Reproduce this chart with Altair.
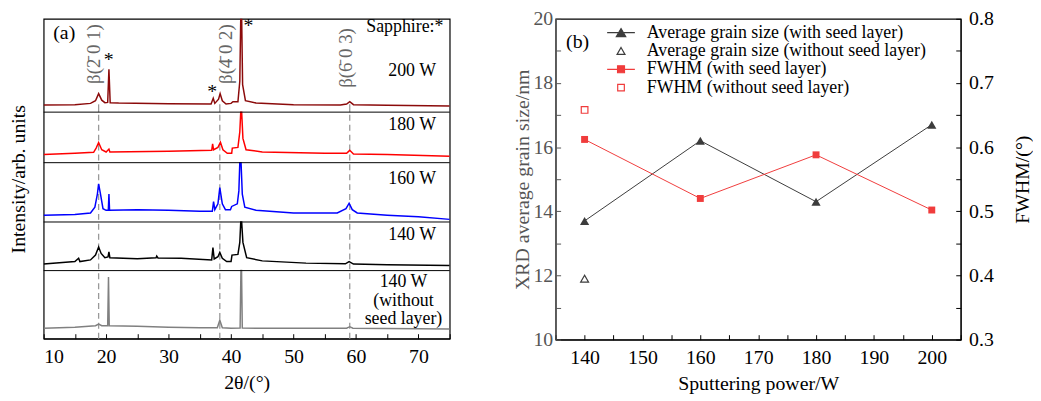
import altair as alt
import pandas as pd

FONT = "Liberation Serif"

# ---------------- (a) XRD patterns ----------------
samples = ["200 W", "180 W", "160 W", "140 W", "140 W (without seed layer)"]
sample_colors = ["#8b0a0a", "#ff0000", "#0000ff", "#000000", "#808080"]
panel_base = [233, 181, 120, 70, 0]  # baseline of each stacked trace (arb. units)

tt_200 = [10, 15, 17.5, 18.3, 18.8, 19.3, 19.8, 20.25, 20.45, 20.65, 22, 30, 36.8, 37.15, 37.4,
          38.0, 38.25, 38.6, 39.2, 40.0, 40.3, 41.1, 41.4, 41.55, 41.7, 41.85, 42.3, 44, 50, 57.5,
          58.5, 59.0, 59.6, 65, 75]
i_200 = [7.3, 7.7, 9, 11.7, 19, 12.3, 9.7, 10, 44, 9.7, 9.3, 8.7, 8.3, 14.3, 9,
         13.3, 19, 11.7, 8.3, 9, 10.7, 10.7, 31.7, 96, 96, 28.3, 11.7, 9.3, 7.7, 7.3,
         8.3, 10.7, 7.7, 7, 6.3]

tt_180 = [10, 15, 18, 18.4, 18.8, 19.3, 20.0, 20.45, 20.6, 30, 36.9, 37.05, 37.2, 37.9, 38.3,
          38.7, 39.4, 40.1, 40.2, 41.1, 41.4, 41.55, 41.7, 41.9, 42.4, 45, 55, 58.5, 59.0, 59.6,
          65, 75]
i_180 = [8.3, 9.7, 10.7, 15, 20.7, 13.3, 11, 14, 11, 11.7, 12.7, 19.3, 13.3, 15.7, 21,
         13.3, 9.7, 9.7, 15, 15.7, 31.7, 52, 52, 25, 13.3, 11, 9.7, 9.7, 12.7, 9,
         8.3, 6.7]

tt_160 = [10, 15, 17.5, 18.2, 18.6, 18.8, 19.1, 19.5, 20.0, 20.35, 20.45, 20.55, 25, 30, 35,
          37.0, 37.2, 37.4, 37.9, 38.2, 38.6, 39.1, 39.9, 40.1, 41.0, 41.25, 41.4, 41.6, 41.8, 42.2,
          44, 50, 57, 58.4, 58.9, 59.4, 60.2, 65, 70, 75]
i_160 = [7, 7.7, 9.3, 15.3, 28.7, 39.3, 28.7, 13.7, 12, 12, 28.7, 12, 12.7, 12, 11,
         11, 21, 12.7, 18.7, 35.3, 18.7, 12.7, 12.7, 16, 18.7, 32, 61, 61, 28.7, 15.3,
         12, 9.3, 9.3, 13.7, 19.3, 12.7, 9.3, 7, 5.3, 2.7]

tt_140 = [10, 15, 15.6, 15.8, 17.5, 18.3, 18.8, 19.2, 19.8, 20.3, 20.45, 20.6, 25, 28, 28.1,
          28.3, 32, 36.9, 37.1, 37.3, 37.9, 38.2, 38.6, 39.3, 40.0, 40.15, 41.1, 41.4, 41.55, 41.7,
          41.9, 42.5, 45, 52, 58.3, 58.9, 59.6, 65, 75]
i_140 = [6.7, 9.3, 12.7, 9.3, 11, 16, 24.3, 17.7, 13.3, 14, 19.3, 13.3, 12.3, 13.3, 15,
         13, 12.7, 11, 23.7, 12, 14.3, 18.7, 12.7, 9.3, 9.3, 16, 16.7, 29, 50, 50,
         29, 13.3, 10, 7.7, 7, 9.3, 6.7, 6, 5.3]

tt_ns = [10, 15, 18.3, 18.8, 19.3, 20.25, 20.38, 20.5, 25, 30, 35, 37.8, 38.2, 38.6, 40,
         41.45, 41.58, 41.68, 41.8, 45, 55, 58.5, 59.0, 59.5, 75]
i_ns = [10.7, 11.7, 13.3, 15, 13.3, 13.3, 63.3, 13.3, 12.7, 11.7, 11.3, 11.3, 19, 11.3, 10.7,
        11, 70, 70, 11, 10.7, 10.7, 10.7, 12.3, 10.7, 10]

peak_tt = [18.8, 38.2, 59.0]
peak_labels = ["β(2̄ 0 1)", "β(4̄ 0 2)", "β(6̄ 0 3)"]

# ---------------- (b) grain size and FWHM ----------------
power = [140, 160, 180, 200]
grain_seed = [13.7, 16.2, 14.3, 16.7]
power_noseed = [140]
grain_noseed = [11.9]
fwhm_seed = [0.612, 0.520, 0.588, 0.502]
fwhm_noseed = [0.658]
legend_labels = ["Average grain size (with seed layer)",
                 "Average grain size (without seed layer)",
                 "FWHM (with seed layer)",
                 "FWHM (without seed layer)"]

# ================= panel (a) =================
rows = []
for name, base, tt, it in zip(samples, panel_base,
                              [tt_200, tt_180, tt_160, tt_140, tt_ns],
                              [i_200, i_180, i_160, i_140, i_ns]):
    for t, v in zip(tt, it):
        rows.append({"sample": name, "tt": t, "y": base + v})
xrd = pd.DataFrame(rows)

W_L, H_L = 410, 323
TOP = 329
xs = alt.Scale(domain=[10, 75], nice=False, zero=False)
ys = alt.Scale(domain=[0, TOP], nice=False, zero=False)
INWARD = {"expr": "-5"}

x_axis_a = alt.Axis(title="2θ/(°)", values=list(range(10, 76, 5)),
                    labelExpr="datum.value % 10 == 0 ? datum.label : ''",
                    tickSize=INWARD, labelPadding=13, titlePadding=6, grid=False)
y_axis_a = alt.Axis(title="Intensity/arb. units", labels=False, ticks=False, domain=False,
                    titlePadding=15, grid=False)


def X(field="tt"):
    return alt.X(f"{field}:Q", scale=xs, axis=x_axis_a)


def Y(field="y"):
    return alt.Y(f"{field}:Q", scale=ys, axis=y_axis_a)


base_top = panel_base[0]
dash_df = pd.DataFrame({"tt": peak_tt, "y": [0] * 3, "y2": [base_top] * 3})
solid_df = pd.DataFrame({"tt": peak_tt, "y": [base_top] * 3, "y2": [base_top + 8] * 3})

dashed = alt.Chart(dash_df).mark_rule(color="#999999", strokeWidth=1.3, strokeDash=[6, 4]).encode(
    x=X(), y=Y(), y2="y2:Q")
solid = alt.Chart(solid_df).mark_rule(color="#999999", strokeWidth=1.3).encode(
    x=X(), y=Y(), y2="y2:Q")

curves = alt.Chart(xrd).mark_line(strokeWidth=1.5, clip=True).encode(
    x=X(), y=Y(),
    color=alt.Color("sample:N", scale=alt.Scale(domain=samples, range=sample_colors), legend=None),
    order=alt.Order("tt:Q"))

seps = alt.Chart(pd.DataFrame({"y": panel_base[:4]})).mark_rule(color="black", strokeWidth=1).encode(y=Y())

beta_df = pd.DataFrame({"label": peak_labels, "tt": [18.1, 39.2, 58.35],
                        "y": [262, 262, 258]})
beta_txt = alt.Chart(beta_df).mark_text(angle=270, align="left", baseline="middle", font=FONT,
                                        fontSize=19, color="#666666").encode(
    x=X(), y=Y(), text="label:N")

star_df = pd.DataFrame({"label": ["*", "*", "*"], "tt": [20.4, 37.0, 42.8], "y": [291, 258, 326]})
stars = alt.Chart(star_df).mark_text(baseline="middle", font=FONT, fontSize=20, dy=4).encode(
    x=X(), y=Y(), text="label:N")

right_df = pd.DataFrame({"label": ["Sapphire:*", "200 W", "180 W", "160 W", "140 W"],
                         "tt": [74.0, 72.8, 72.8, 72.8, 72.8],
                         "y": [321, 275, 220, 164, 107]})
right_txt = alt.Chart(right_df).mark_text(align="right", baseline="middle", font=FONT,
                                          fontSize=18).encode(x=X(), y=Y(), text="label:N")

a_df = pd.DataFrame({"label": ["(a)"], "tt": [13.3], "y": [314.5]})
a_txt = alt.Chart(a_df).mark_text(baseline="middle", font=FONT, fontSize=20).encode(
    x=X(), y=Y(), text="label:N")

ns_df = pd.DataFrame({"tt": [67.6], "y": [58]})
ns_txt = alt.Chart(ns_df).mark_text(text=["140 W", "(without", "seed layer)"], align="center",
                                    baseline="middle", lineHeight=18.5, font=FONT,
                                    fontSize=18).encode(x=X(), y=Y())

left = alt.layer(dashed, solid, curves, seps, beta_txt, stars, right_txt, a_txt, ns_txt).properties(
    width=W_L, height=H_L)

# ================= panel (b) =================
W_R, H_R = 409, 324
xr = alt.Scale(domain=[135, 205], nice=False, zero=False)
yg = alt.Scale(domain=[10, 20], nice=False, zero=False)
yf = alt.Scale(domain=[0.3, 0.8], nice=False, zero=False)
GRAY = "#3c3c3c"
RED = "#f03c3c"

x_axis_b = alt.Axis(title="Sputtering power/W", values=list(range(135, 206, 5)),
                    labelExpr="datum.value % 10 == 0 ? datum.label : ''",
                    tickSize=INWARD, labelPadding=13, titlePadding=6, grid=False)
yg_axis = alt.Axis(title="XRD average grain size/nm", values=list(range(10, 21)),
                   labelExpr="datum.value % 2 == 0 ? datum.label : ''",
                   tickSize=INWARD, labelPadding=8, titlePadding=0, grid=False,
                   domainColor="#555555", tickColor="#555555", labelColor="#555555",
                   titleColor="#555555")
yf_vals = [0.3, 0.35, 0.4, 0.45, 0.5, 0.55, 0.6, 0.65, 0.7, 0.75, 0.8]
yf_axis = alt.Axis(title="FWHM/(°)", orient="right", values=yf_vals,
                   labelExpr="abs(datum.value*10 - round(datum.value*10)) < 0.001 ? format(datum.value, '.1f') : ''",
                   tickSize=INWARD, labelPadding=13, titlePadding=19, titleAngle=270,
                   titleBaseline="top", grid=False)


def XB():
    return alt.X("power:Q", scale=xr, axis=x_axis_b)


def YG():
    return alt.Y("grain:Q", scale=yg, axis=yg_axis)


def YF():
    return alt.Y("fwhm:Q", scale=yf, axis=yf_axis)


g_df = pd.DataFrame({"power": power, "grain": grain_seed})
gn_df = pd.DataFrame({"power": power_noseed, "grain": grain_noseed})
f_df = pd.DataFrame({"power": power, "fwhm": fwhm_seed})
fn_df = pd.DataFrame({"power": power_noseed, "fwhm": fwhm_noseed})

g_line = alt.Chart(g_df).mark_line(color=GRAY, strokeWidth=1).encode(x=XB(), y=YG())
g_pts = alt.Chart(g_df).mark_point(shape="triangle-up", filled=True, size=86, color=GRAY,
                                   opacity=1).encode(x=XB(), y=YG())
gn_pts = alt.Chart(gn_df).mark_point(shape="triangle-up", filled=False, size=64, color=GRAY,
                                     strokeWidth=1.2, opacity=1).encode(x=XB(), y=YG())

# legend: symbols built from the series names, drawn outside the plot (clipped)
leg_paths = ["M-2.8,0H2.8M0,-0.82L0.95,0.82L-0.95,0.82Z",
             "M0,-0.7L0.8,0.7L-0.8,0.7Z",
             "M-2.8,0H2.8M-0.7,-0.7H0.7V0.7H-0.7Z",
             "M-0.67,-0.67H0.67V0.67H-0.67Z"]
leg = alt.Legend(title=None, orient="none", legendX=574, legendY=5, padding=0,
                 labelFont=FONT, labelFontSize=18, labelColor="black", labelLimit=500,
                 symbolSize=100, symbolStrokeWidth=1.2, labelOffset=17, rowPadding=0.5,
                 symbolOpacity=1)
leg_df = pd.DataFrame({"series": legend_labels, "power": [0] * 4, "grain": [0] * 4})
leg_layer = alt.Chart(leg_df).mark_point(clip=True, opacity=1, size=100).encode(
    x=XB(), y=YG(),
    shape=alt.Shape("series:N", scale=alt.Scale(domain=legend_labels, range=leg_paths), legend=leg),
    fill=alt.Fill("series:N", scale=alt.Scale(domain=legend_labels,
                                              range=[GRAY, "white", RED, "white"]), legend=leg),
    stroke=alt.Stroke("series:N", scale=alt.Scale(domain=legend_labels,
                                                  range=[GRAY, GRAY, RED, RED]), legend=leg))

b_df = pd.DataFrame({"label": ["(b)"], "power": [138.8], "grain": [19.27]})
b_txt = alt.Chart(b_df).mark_text(baseline="middle", font=FONT, fontSize=20).encode(
    x=XB(), y=YG(), text="label:N")

f_line = alt.Chart(f_df).mark_line(color=RED, strokeWidth=1).encode(x=XB(), y=YF())
f_pts = alt.Chart(f_df).mark_point(shape="square", filled=True, size=49, color=RED,
                                   opacity=1).encode(x=XB(), y=YF())
fn_pts = alt.Chart(fn_df).mark_point(shape="square", filled=False, size=45, color=RED,
                                     strokeWidth=1.2, opacity=1).encode(x=XB(), y=YF())

right = alt.layer(
    alt.layer(g_line, g_pts, gn_pts, leg_layer, b_txt),
    alt.layer(f_line, f_pts, fn_pts),
).resolve_scale(y="independent").properties(width=W_R, height=H_R)

chart = alt.hconcat(left, right, spacing=107, bounds="flush").properties(
    padding={"left": 0, "top": -2, "right": 0, "bottom": 0}
).configure_view(stroke="black", strokeWidth=1.2).configure_axis(
    labelFont=FONT, titleFont=FONT, labelFontSize=20, titleFontSize=20,
    titleFontWeight="normal", labelColor="black", titleColor="black",
    domainColor="black", tickColor="black"
)

chart.save("out.html", embed_options={"renderer": "svg", "actions": False})
